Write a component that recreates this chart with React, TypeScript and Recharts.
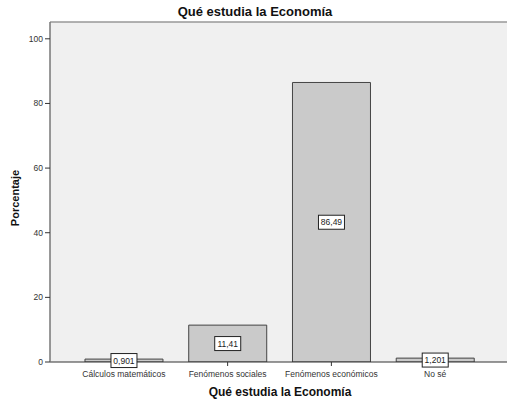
import React from "react";
import { BarChart, Bar, XAxis, YAxis, CartesianGrid, LabelList, ReferenceLine } from "recharts";

const categories = ["Cálculos matemáticos", "Fenómenos sociales", "Fenómenos económicos", "No sé"];
const percentages = [0.901, 11.41, 86.49, 1.201];
const valueLabels = ["0,901", "11,41", "86,49", "1,201"];
const yTicks = [0, 20, 40, 60, 80, 100];

const data = categories.map((c, i) => ({ name: c, value: percentages[i], label: valueLabels[i] }));

const FONT = "Arial, 'Liberation Sans', sans-serif";

const BoxLabel = (props: any) => {
  const { x, y, width, height, index } = props;
  const txt = valueLabels[index];
  const cx = x + width / 2;
  const cy = y + height / 2;
  const w = 26;
  const h = 14;
  return (
    <g>
      <rect x={cx - w / 2} y={cy - h / 2} width={w} height={h} fill="#ffffff" stroke="#222" strokeWidth={1} />
      <text x={cx} y={cy + 3} textAnchor="middle" fontSize={8.5} fontFamily={FONT} fill="#222">
        {txt}
      </text>
    </g>
  );
};

export default function App() {
  return (
    <div style={{ position: "absolute", left: 0, top: 0, width: 508, height: 403, background: "#fff" }}>
      <BarChart
        width={508}
        height={403}
        data={data}
        margin={{ top: 22, right: 1, bottom: 11, left: 0 }}
        barCategoryGap="12.5%"
      >
        <CartesianGrid horizontal={false} vertical={false} fill="#f0f0f0" stroke="none" />
        <XAxis
          dataKey="name"
          height={30}
          padding={{ left: 22, right: 20 }}
          tick={{ fontSize: 8.5, fill: "#333", fontFamily: FONT }}
          tickLine={{ stroke: "#333" }}
          tickSize={4}
          tickMargin={5}
          axisLine={{ stroke: "#333" }}
          interval={0}
        />
        <YAxis
          width={50}
          domain={[0, 105.2]}
          ticks={yTicks}
          allowDataOverflow
          tick={{ fontSize: 8.5, fill: "#333", fontFamily: FONT }}
          tickLine={{ stroke: "#333" }}
          tickSize={5}
          axisLine={{ stroke: "#777", strokeWidth: 1.5 }}
        />
        <ReferenceLine y={105.2} stroke="#999" strokeWidth={1.5} ifOverflow="extendDomain" />
        <Bar dataKey="value" fill="#cacaca" stroke="#444" strokeWidth={1} isAnimationActive={false}>
          <LabelList dataKey="value" content={BoxLabel} />
        </Bar>
        <text x={255} y={16} textAnchor="middle" fontSize={13} fontWeight="bold" fontFamily={FONT} fill="#111">
          Qué estudia la Economía
        </text>
        <text x={280} y={396} textAnchor="middle" fontSize={12} fontWeight="bold" fontFamily={FONT} fill="#111">
          Qué estudia la Economía
        </text>
        <text
          x={0}
          y={0}
          transform="translate(19,198) rotate(-90)"
          textAnchor="middle"
          fontSize={11}
          fontWeight="bold"
          fontFamily={FONT}
          fill="#111"
        >
          Porcentaje
        </text>
      </BarChart>
    </div>
  );
}
